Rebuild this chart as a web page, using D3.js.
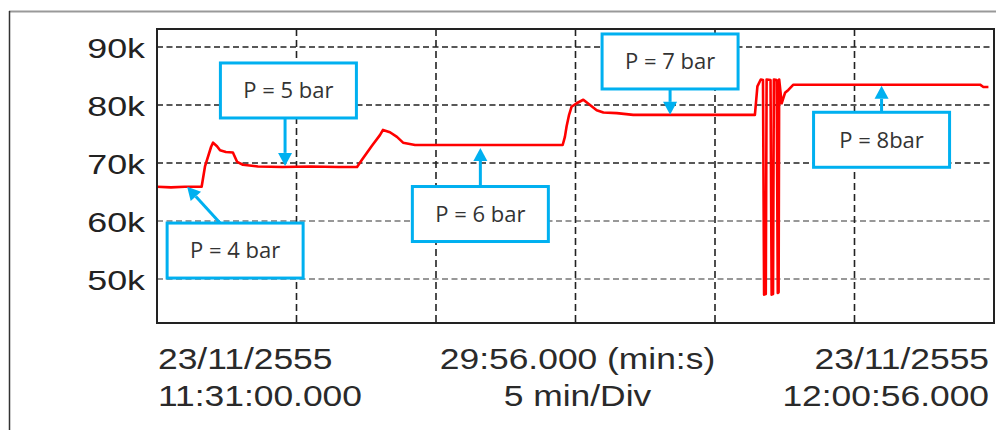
<!DOCTYPE html>
<html>
<head>
<meta charset="utf-8">
<script src="https://cdn.jsdelivr.net/npm/d3@7"></script>
<style>
    body { margin: 0; background: #ffffff; }
    svg { display: block; }
</style>
</head>
<body>
<svg id="chart"></svg>
<script>
// time since start of record, in minutes
var timeMin = [0, 0.5, 1.0, 1.6, 1.72, 1.94, 2.01, 2.15, 2.26, 2.47, 2.72, 2.87, 3.08, 3.62, 4.5, 5.5, 6.5, 7.17,
    7.34, 7.71, 7.99, 8.10, 8.35, 8.60, 8.82, 9.25, 12.0, 14.54,
    14.62, 14.68, 14.77, 14.86, 15.04, 15.28, 15.52, 15.76, 16.0, 16.48, 17.07, 19.0, 21.43,
    21.52, 21.64, 21.72, 21.76, 21.82, 21.85, 21.99, 22.03, 22.08, 22.11, 22.21, 22.25, 22.28, 22.30,
    22.39, 22.51, 22.63, 22.81, 26.0, 29.50, 29.62, 29.80];

// measured value (same length as timeMin)
var pressure = [65900, 65800, 65900, 65900, 69400, 72800, 73500, 72900, 72200, 71900, 71800, 70200, 69700, 69400, 69300, 69400, 69300, 69300,
    70500, 73000, 74800, 75700, 75300, 74500, 73500, 73100, 73100, 73100,
    74500, 76300, 78300, 79700, 80300, 80900, 80000, 79100, 78700, 78600, 78300, 78300, 78300,
    83200, 84400, 84300, 47300, 47400, 84400, 84300, 47300, 47400, 84400, 84300, 47600, 47700, 84400,
    80300, 82100, 82600, 83500, 83500, 83500, 83100, 83100];

var yTicks = [50000, 60000, 70000, 80000, 90000];
var xGridMin = [5, 10, 15, 20, 25];

var leftLabels = ["23/11/2555", "11:31:00.000"];
var centerLabels = ["29:56.000 (min:s)", "5 min/Div"];
var rightLabels = ["23/11/2555", "12:00:56.000"];

// callouts: text, where the box sits and where the arrow points (data units)
var callouts = [
    { text: "P = 4 bar", bx: 2.80, by: 54900, tx: 1.08, ty: 65900, fromX: 2.26 },
    { text: "P = 5 bar", bx: 4.71, by: 82500, tx: 4.59, ty: 69500 },
    { text: "P = 6 bar", bx: 11.59, by: 61200, tx: 11.59, ty: 72600 },
    { text: "P = 7 bar", bx: 18.39, by: 87500, tx: 18.39, ty: 78300 },
    { text: "P = 8bar", bx: 25.97, by: 74000, tx: 25.97, ty: 83300 }
];

var width = 996, height = 430;
var margin = { top: 29, right: 2, bottom: 107, left: 157 };
var plotW = width - margin.left - margin.right;
var plotH = height - margin.top - margin.bottom;

var svg = d3.select("#chart")
    .attr("width", width)
    .attr("height", height);

svg.append("rect").attr("width", width).attr("height", height).attr("fill", "#fff");

// outer frame of the screenshot
svg.append("line").attr("x1", 9).attr("x2", 996).attr("y1", 11.5).attr("y2", 11.5)
    .attr("stroke", "#999").attr("stroke-width", 2);
svg.append("line").attr("x1", 9.5).attr("x2", 9.5).attr("y1", 11).attr("y2", 430)
    .attr("stroke", "#333").attr("stroke-width", 1.5);

var x = d3.scaleLinear().domain([0, 30]).range([0, plotW]);
var y = d3.scaleLinear().domain([42410, 93100]).range([plotH, 0]);

var g = svg.append("g")
    .attr("transform", "translate(" + margin.left + "," + margin.top + ")");

// grid
g.selectAll(".hgrid")
    .data(yTicks)
    .enter().append("line")
    .attr("class", "hgrid")
    .attr("x1", 0).attr("x2", plotW)
    .attr("y1", function (d) { return y(d); })
    .attr("y2", function (d) { return y(d); })
    .attr("stroke", function (d) { return d < 70000 ? "#777" : "#222"; })
    .attr("stroke-width", 1.6)
    .attr("stroke-dasharray", "6,3.5");

g.selectAll(".vgrid")
    .data(xGridMin)
    .enter().append("line")
    .attr("class", "vgrid")
    .attr("y1", 0).attr("y2", plotH)
    .attr("x1", function (d) { return x(d); })
    .attr("x2", function (d) { return x(d); })
    .attr("stroke", "#222")
    .attr("stroke-width", 1.6)
    .attr("stroke-dasharray", "7,4");

// y axis labels
var yAxis = d3.axisLeft(y)
    .tickValues(yTicks)
    .tickSize(0)
    .tickPadding(0)
    .tickFormat(d3.format("~s"));

var sx = 1.28;
var ya = g.append("g").call(yAxis);
ya.select(".domain").remove();
ya.selectAll("text")
    .attr("x", -12 / sx)
    .attr("dy", "0.36em")
    .attr("transform", "scale(" + sx + ",1)")
    .style("font-family", "'Liberation Sans', Arial, sans-serif")
    .style("font-size", "28px")
    .style("fill", "#222");

// the trace
var points = timeMin.map(function (t, i) { return [t, pressure[i]]; });

var line = d3.line()
    .x(function (d) { return x(d[0]); })
    .y(function (d) { return y(d[1]); });

g.append("path")
    .datum(points)
    .attr("d", line)
    .attr("fill", "none")
    .attr("stroke", "#ff0000")
    .attr("stroke-width", 2.6)
    .attr("stroke-linejoin", "round");

// plot frame
g.append("rect")
    .attr("width", plotW).attr("height", plotH)
    .attr("fill", "none")
    .attr("stroke", "#222")
    .attr("stroke-width", 2);

// callouts
var blue = "#00b0f0";
var boxW = 136, boxH = 55;

function arrow(x1, y1, x2, y2)
{
    var ang = Math.atan2(y2 - y1, x2 - x1);
    var len = 13, half = 7;
    var bx = x2 - len * Math.cos(ang), by = y2 - len * Math.sin(ang);
    g.append("line")
        .attr("x1", x1).attr("y1", y1).attr("x2", bx).attr("y2", by)
        .attr("stroke", blue).attr("stroke-width", 3);
    var p1 = [bx + half * Math.sin(ang), by - half * Math.cos(ang)];
    var p2 = [bx - half * Math.sin(ang), by + half * Math.cos(ang)];
    g.append("path")
        .attr("d", "M" + x2 + "," + y2 + "L" + p1 + "L" + p2 + "Z")
        .attr("fill", blue);
}

callouts.forEach(function (c) {
    var cx = x(c.bx), cy = y(c.by);
    var tx = x(c.tx), ty = y(c.ty);
    var startX = c.fromX !== undefined ? x(c.fromX) : tx;
    var startY = ty < cy ? cy - boxH / 2 : cy + boxH / 2;
    arrow(startX, startY, tx, ty);

    g.append("rect")
        .attr("x", cx - boxW / 2).attr("y", cy - boxH / 2)
        .attr("width", boxW).attr("height", boxH)
        .attr("fill", "#fff")
        .attr("stroke", blue)
        .attr("stroke-width", 3);

    g.append("text")
        .attr("x", cx).attr("y", cy)
        .attr("dy", "0.36em")
        .attr("text-anchor", "middle")
        .style("font-family", "'Open Sans', sans-serif")
        .style("font-size", "22px")
        .style("fill", "#333")
        .text(c.text);
});

// time labels under the plot
var tsx = 1.18;
function labelBlock(lines, px, anchor)
{
    lines.forEach(function (s, i) {
        svg.append("text")
            .attr("transform", "translate(" + px + "," + (369 + i * 37) + ") scale(" + tsx + ",1)")
            .attr("text-anchor", anchor)
            .style("font-family", "'Liberation Sans', Arial, sans-serif")
            .style("font-size", "30px")
            .style("fill", "#2a2a2a")
            .text(s);
    });
}
labelBlock(leftLabels, margin.left + x(0) + 1, "start");
labelBlock(centerLabels, margin.left + x(15) + 2, "middle");
labelBlock(rightLabels, margin.left + x(30) - 5, "end");
</script>
</body>
</html>
